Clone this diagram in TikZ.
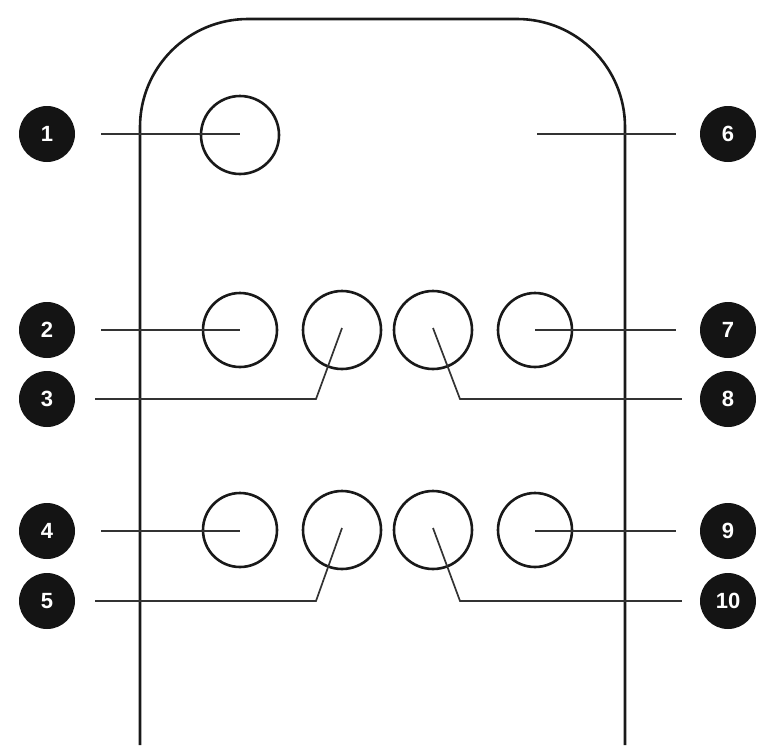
\documentclass[tikz,border=0pt]{standalone}
\usepackage{fontspec}
\setmainfont{Liberation Sans}
\begin{document}
\begin{tikzpicture}[x=1pt,y=-1pt,
  body/.style={line width=2.6pt,black!90},
  btn/.style={circle,draw=black!90,line width=2.6pt,minimum size=74pt,inner sep=0pt},
  bigbtn/.style={btn,minimum size=78pt},
  marker/.style={circle,fill=black!92,minimum size=56pt,inner sep=0pt,text=white,
    font=\fontsize{22}{22}\selectfont\bfseries},
  leader/.style={line width=1.7pt,black!80}]
\useasboundingbox (0,0) rectangle (776,753);
% body outline
\draw[body,rounded corners=108pt] (140,745) -- (140,19) -- (625,19) -- (625,745);
% buttons
\node[bigbtn] (b1) at (240,135) {};
\coordinate (b6) at (537,134);
\node[btn] (b2) at (240,330) {};
\node[bigbtn] (b3) at (342,330) {};
\node[bigbtn] (b8) at (433,330) {};
\node[btn] (b7) at (535,330) {};
\node[btn] (b4) at (240,530) {};
\node[bigbtn] (b5) at (342,530) {};
\node[bigbtn] (b10) at (433,530) {};
\node[btn] (b9) at (535,530) {};
% markers
\node[marker] (m1) at (47,134) {1};
\node[marker] (m2) at (47,330) {2};
\node[marker] (m3) at (47,399) {3};
\node[marker] (m4) at (47,531) {4};
\node[marker] (m5) at (47,601) {5};
\node[marker] (m6) at (728,134) {6};
\node[marker] (m7) at (728,330) {7};
\node[marker] (m8) at (728,399) {8};
\node[marker] (m9) at (728,531) {9};
\node[marker] (m10) at (728,601) {10};
% elbow points
\coordinate (e3) at (316,399);
\coordinate (e8) at (460,399);
\coordinate (e5) at (316,601);
\coordinate (e10) at (460,601);
% leaders
\draw[leader,shorten <=26pt] (m1) -- (b1.center |- m1);
\draw[leader,shorten <=26pt] (m2) -- (b2.center);
\draw[leader,shorten <=26pt] (m4) -- (b4.center |- m4);
\draw[leader,shorten <=20pt] (m3) -- (e3) -- ([yshift=2pt]b3.center);
\draw[leader,shorten <=20pt] (m5) -- (e5) -- ([yshift=2pt]b5.center);
\draw[leader,shorten <=24pt] (m6) -- (b6);
\draw[leader,shorten <=24pt] (m7) -- (b7.center);
\draw[leader,shorten <=24pt] (m9) -- (b9.center |- m9);
\draw[leader,shorten <=18pt] (m8) -- (e8) -- ([yshift=2pt]b8.center);
\draw[leader,shorten <=18pt] (m10) -- (e10) -- ([yshift=2pt]b10.center);
\end{tikzpicture}
\end{document}
